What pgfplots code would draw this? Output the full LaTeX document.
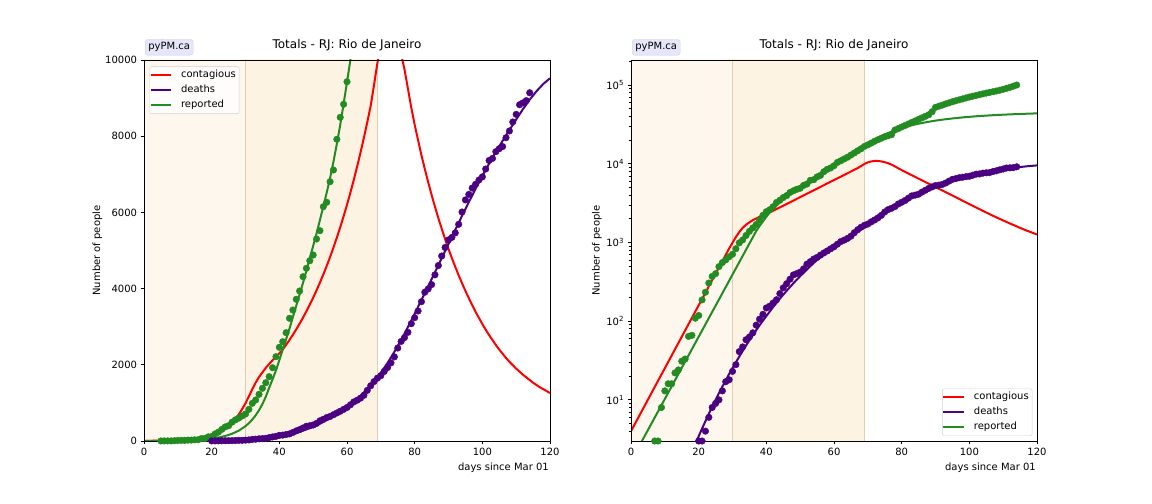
\documentclass[border=0pt]{standalone}
\usepackage{fontspec}
\setmainfont{DejaVu Sans}
\usepackage{pgfplots}
\pgfplotsset{compat=1.18}
\usepackage{pgfplotstable}

\definecolor{cred}{HTML}{FF0000}
\definecolor{cind}{HTML}{4B0082}
\definecolor{cgrn}{HTML}{228B22}
\definecolor{spanA}{HTML}{FEF7EE}
\definecolor{spanB}{HTML}{FDF3E3}
\definecolor{spanE}{HTML}{E3CDB0}
\definecolor{lav}{HTML}{E6E6FA}
\definecolor{lavE}{HTML}{D0D0EE}

% reported (cumulative cases) data points
\pgfplotstableread{
d v
5 1
6 2
7 3
8 3
9 8
10 13
11 16
12 16
13 22
14 24
15 31
16 33
17 64
18 66
19 109
20 118
21 186
22 233
23 305
24 370
25 401
26 493
27 555
28 600
29 657
30 708
31 832
32 989
33 1076
34 1225
35 1383
36 1530
37 1688
38 1924
39 2213
40 2459
41 2606
42 2843
43 3220
44 3438
45 3719
46 3937
47 4312
48 4533
49 4732
50 4882
51 5302
52 5520
53 6150
54 6265
55 6806
56 7113
57 7919
58 8496
59 8837
60 9430
61 10400
62 10900
63 11500
64 12100
65 12900
66 13700
67 14600
68 15500
69 16600
70 17400
71 18300
72 19300
73 20200
74 21100
75 22000
76 22700
77 23400
78 26800
79 28000
80 29300
81 30600
82 32000
83 33500
84 35000
85 36600
86 38300
87 40000
88 41900
89 45800
90 52000
91 53800
92 55600
93 57500
94 59400
95 61300
96 63100
97 64800
98 66600
99 68500
100 70400
101 72100
102 73700
103 75400
104 77200
105 79000
106 80600
107 82200
108 84000
109 86000
110 88300
111 90800
112 93600
113 96700
114 100000
}\repPts

% deaths data points
\pgfplotstableread{
d v
20 3
21 3
22 4
23 6
24 8
25 9
26 10
27 13
28 17
29 18
30 23
31 28
32 41
33 47
34 58
35 63
36 71
37 89
38 106
39 122
40 147
41 155
42 170
43 187
44 224
45 265
46 299
47 341
48 387
49 402
50 420
51 461
52 530
53 570
54 615
55 645
56 690
57 735
58 780
59 830
60 880
61 950
62 1025
63 1070
64 1125
65 1200
66 1330
67 1450
68 1560
69 1650
70 1714
71 1826
72 1928
73 2050
74 2208
75 2440
76 2613
77 2715
78 2852
79 3079
80 3237
81 3412
82 3657
83 3905
84 3993
85 4105
86 4361
87 4605
88 4856
89 5079
90 5279
91 5344
92 5462
93 5686
94 6010
95 6327
96 6473
97 6639
98 6737
99 6850
100 6933
101 7138
102 7363
103 7417
104 7594
105 7672
106 7728
107 7960
108 8137
109 8373
110 8574
111 8826
112 8875
113 8933
114 9140
}\dthPts

% contagious model
\pgfplotstableread{
d v
0 4.0
2 5.78
4 8.35
6 12.1
8 17.5
10 25.2
12 36.5
14 52.7
16 76.2
18 110
20 159
22 230
24 333
26 481
27 578
28 695
29 836
30 990
31 1170
32 1360
33 1530
34 1680
35 1800
36 1920
37 2020
38 2120
39 2210
40 2300
41 2400
42 2523
43 2652
44 2788
45 2930
46 3081
47 3239
48 3405
49 3579
50 3762
51 3955
52 4158
53 4371
54 4595
55 4830
56 5078
57 5338
58 5611
59 5899
60 6201
61 6519
62 6853
63 7204
64 7573
65 7961
66 8369
67 8798
68 9350
69 9930
70 10400
71 10700
72 10850
73 10850
74 10700
75 10450
76 10150
77 9750
78 9250
79 8750
80 8300
81 7900
82 7500
83 7140
84 6790
85 6460
86 6150
87 5850
88 5570
89 5300
90 5040
91 4800
92 4570
93 4350
94 4140
95 3940
96 3750
97 3570
98 3390
99 3230
100 3070
101 2920
102 2780
103 2650
104 2520
105 2400
106 2290
107 2180
108 2080
109 1990
110 1900
111 1820
112 1740
113 1670
114 1600
115 1530
116 1470
117 1410
118 1360
119 1310
120 1260
}\conMod

% deaths model
\pgfplotstableread{
d v
18 2.15
19 2.73
20 3.44
21 4.31
22 5.36
23 6.64
24 8.17
25 9.99
26 12.2
27 14.7
28 17.7
29 21.3
30 25.3
32 35.5
34 49.0
36 66.4
38 88.6
40 116
42 151
44 193
46 243
48 303
50 373
52 454
54 548
56 654
58 774
60 907
62 1040
64 1190
66 1360
68 1560
70 1790
72 2050
74 2340
76 2650
78 2990
80 3340
82 3700
84 4060
86 4430
88 4800
90 5170
92 5540
94 5910
96 6270
98 6620
100 6960
102 7280
104 7590
106 7880
108 8160
110 8440
112 8710
114 8960
116 9180
118 9370
120 9520
}\dthMod

% reported model
\pgfplotstableread{
d v
0 1.66
2 2.40
4 3.45
6 4.96
8 7.13
10 10.27
12 14.77
14 21.25
16 30.6
18 44.0
20 63.3
22 91.1
24 131.1
26 188.6
28 271.3
30 390.3
31 468.2
32 561.6
33 673.6
34 808.0
35 969.2
36 1162.6
37 1394.5
38 1620
39 1850
40 2120
41 2400
42 2670
43 2950
44 3250
45 3550
46 3850
47 4150
48 4470
49 4800
50 5120
51 5450
52 5800
53 6150
54 6520
55 6900
56 7330
57 7800
58 8300
59 8850
60 9420
61 10000
62 10702
63 11441
64 12217
65 13032
66 13890
67 14791
68 15741
69 16749
70 17815
71 18923
72 20055
73 21194
74 22326
75 23437
76 24518
77 25563
78 26561
79 27506
80 28401
81 29252
82 30060
83 30829
84 31561
85 32257
86 32919
87 33549
88 34149
89 34720
90 35263
91 35780
92 36272
93 36740
94 37187
95 37611
96 38015
97 38399
98 38765
99 39112
100 39443
101 39758
102 40057
103 40343
104 40615
105 40873
106 41120
107 41355
108 41579
109 41793
110 41998
111 42193
112 42380
113 42560
114 42732
115 42897
116 43054
117 43205
118 43351
119 43492
120 43627
}\repMod

\pgfplotsset{
  common/.style={
    scale only axis, width=406bp, height=381bp,
    xmin=0, xmax=120,
    xtick={0,20,40,60,80,100,120},
    xticklabels={0,20,40,60,80,100,120},
    tick pos=left, tick align=outside,
    major tick length=3.5bp, minor tick length=2bp,
    major tick style={line width=0.8bp, black},
    minor tick style={line width=0.6bp, black},
    axis line style={line width=0.8bp},
    axis on top,
    ticklabel style={font=\fontsize{10bp}{12bp}\selectfont},
    title={Totals - RJ: Rio de Janeiro},
    title style={at={(0.5,1)}, anchor=base, yshift=6bp, inner sep=0pt,
      font=\fontsize{12bp}{14bp}\selectfont},
    legend cell align=left,
    legend image code/.code={\draw[#1] (0bp,0bp) -- (20.7bp,0bp);},
    legend style={font=\fontsize{10bp}{12bp}\selectfont, draw=black!18,
      rounded corners=2bp, fill=white, fill opacity=0.8, text opacity=1,
      inner xsep=0bp, inner ysep=1bp, column sep=5.4bp, row sep=0bp,
      nodes={inner xsep=3.4bp, inner ysep=2.5bp, text height=7.5bp, text depth=2.5bp}},
  },
  pts/.style={only marks, mark=*, mark size=3.3bp, forget plot,
    mark options={draw=#1, fill=#1}},
  mod/.style={#1, line width=2bp, mark=none},
}

\newcommand\tfont{\fontsize{10bp}{12bp}\selectfont}

\begin{document}
\begin{tikzpicture}
\path[use as bounding box] (0,0) rectangle (1152bp,504bp);

\begin{axis}[common, name=L, at={(144bp,63bp)}, anchor=south west,
  ymin=0, ymax=10000,
  ytick={0,2000,4000,6000,8000,10000},
  yticklabels={0,2000,4000,6000,8000,10000},
  legend style={at={(0,1)}, anchor=north west, xshift=5.3bp, yshift=-6.5bp}]
\addplot[fill=spanA, draw=none, forget plot] coordinates {(0,-100) (30,-100) (30,11000) (0,11000)};
\addplot[fill=spanB, draw=none, forget plot] coordinates {(30,-100) (69,-100) (69,11000) (30,11000)};
\addplot[spanE, line width=1bp, forget plot] coordinates {(30,-100) (30,11000)};
\addplot[spanE, line width=1bp, forget plot] coordinates {(69,-100) (69,11000)};
\addplot[pts=cgrn] table[x=d, y=v] {\repPts};
\addplot[pts=cind] table[x=d, y=v] {\dthPts};
\addplot[mod=cred] table[x=d, y=v] {\conMod};
\addplot[mod=cind] table[x=d, y=v] {\dthMod};
\addplot[mod=cgrn] table[x=d, y=v] {\repMod};
\legend{contagious, deaths, reported}
\end{axis}

\begin{axis}[common, name=R, at={(631bp,63bp)}, anchor=south west,
  ymode=log, ymin=3, ymax=2.08e5,
  ytick={10,100,1000,10000,100000},
  yticklabels={10\textsuperscript{1},10\textsuperscript{2},10\textsuperscript{3},10\textsuperscript{4},10\textsuperscript{5}},
  minor ytick={4,5,6,7,8,9,20,30,40,50,60,70,80,90,200,300,400,500,600,700,800,900,2000,3000,4000,5000,6000,7000,8000,9000,20000,30000,40000,50000,60000,70000,80000,90000,200000},
  legend style={at={(1,0)}, anchor=south east, xshift=-4.7bp, yshift=5bp}]
\addplot[fill=spanA, draw=none, forget plot] coordinates {(0,1) (30,1) (30,1e6) (0,1e6)};
\addplot[fill=spanB, draw=none, forget plot] coordinates {(30,1) (69,1) (69,1e6) (30,1e6)};
\addplot[spanE, line width=1bp, forget plot] coordinates {(30,1) (30,1e6)};
\addplot[spanE, line width=1bp, forget plot] coordinates {(69,1) (69,1e6)};
\addplot[pts=cgrn] table[x=d, y=v] {\repPts};
\addplot[pts=cind] table[x=d, y=v] {\dthPts};
\addplot[mod=cred] table[x=d, y=v] {\conMod};
\addplot[mod=cind] table[x=d, y=v] {\dthMod};
\addplot[mod=cgrn] table[x=d, y=v] {\repMod};
\legend{contagious, deaths, reported}
\end{axis}

\foreach \ax/\ys in {L/-41.6bp, R/-29bp} {
  \node[anchor=south west, fill=lav, draw=lavE, rounded corners=3bp,
    minimum width=48bp, minimum height=16bp, inner sep=0pt, font=\tfont]
    at ([xshift=1bp,yshift=4.5bp]\ax.north west) {pyPM.ca};
  \node[rotate=90, anchor=south, inner sep=0pt, font=\tfont]
    at ([xshift=\ys]\ax.west) {Number of people};
  \node[anchor=base east, inner sep=0pt, font=\tfont]
    at ([xshift=-1bp,yshift=-29bp]\ax.south east) {days since Mar 01};
}
\end{tikzpicture}
\end{document}
